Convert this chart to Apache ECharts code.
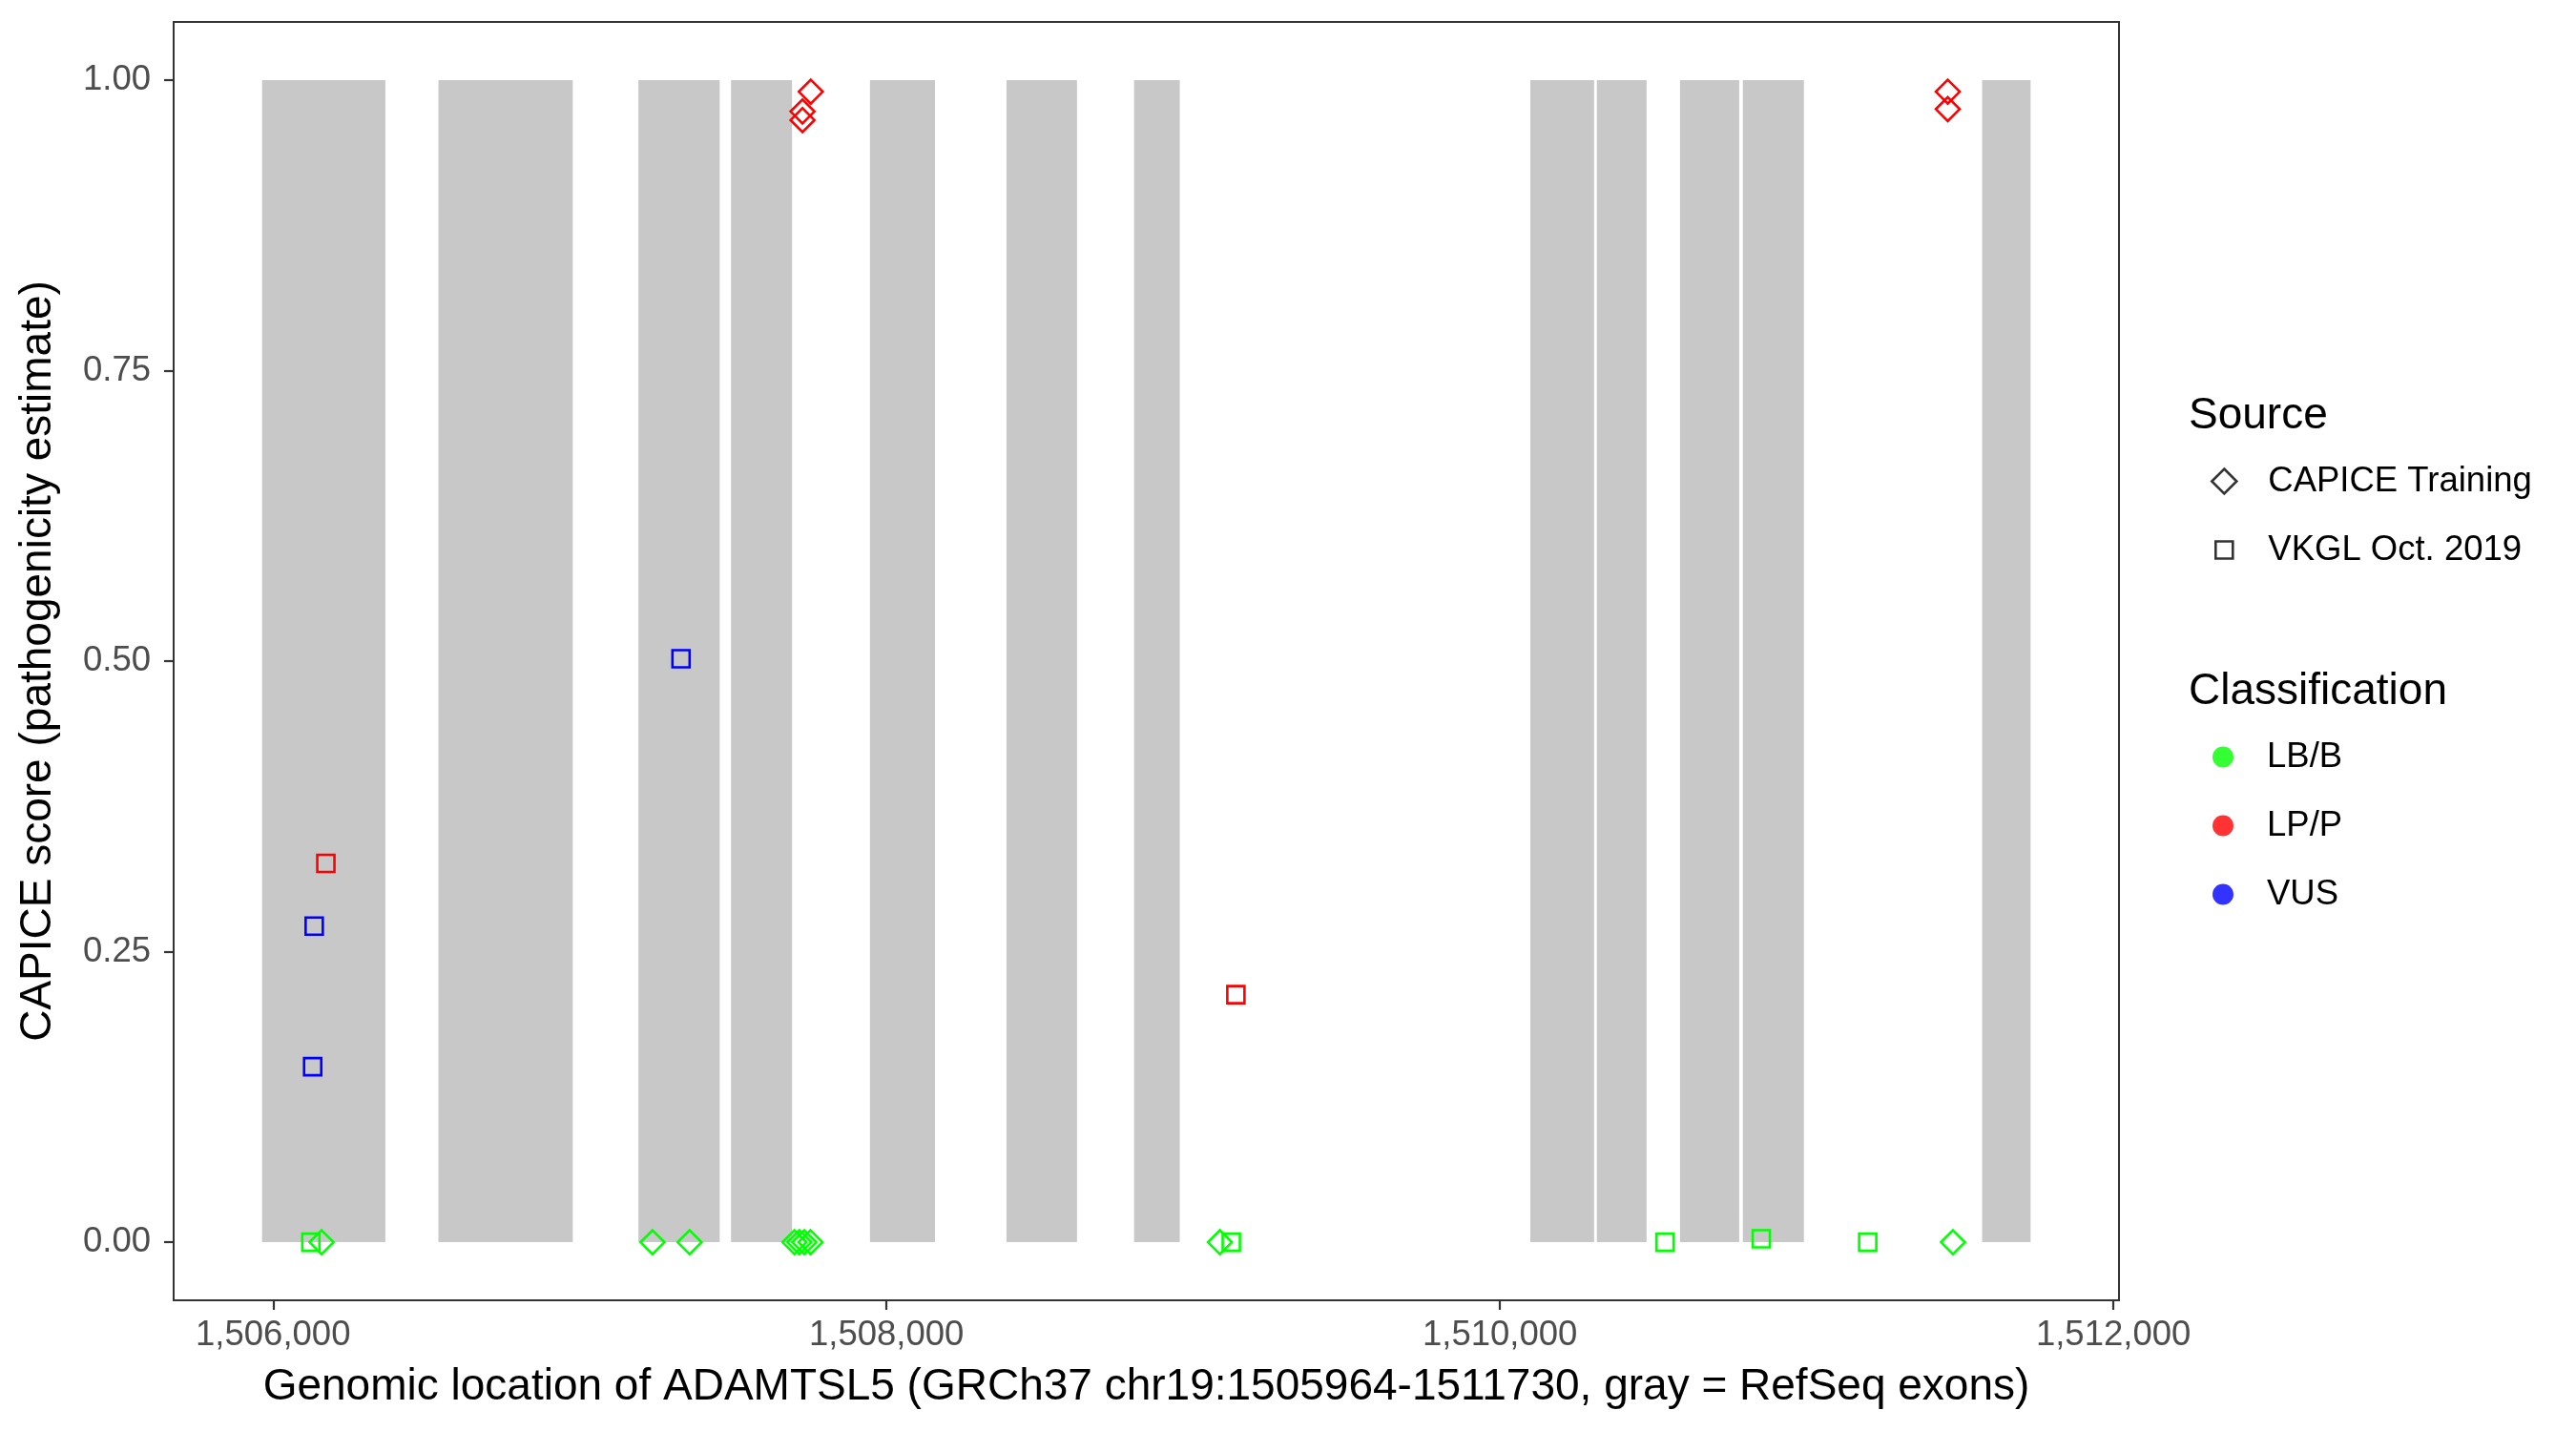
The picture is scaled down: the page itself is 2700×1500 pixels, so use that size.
<!DOCTYPE html>
<html>
<head>
<meta charset="utf-8">
<script src="https://cdn.jsdelivr.net/npm/echarts@6/dist/echarts.min.js"></script>
<style>
html,body{margin:0;padding:0;background:#fff;}
#chart{width:2700px;height:1500px;}
</style>
</head>
<body>
<div id="chart"></div>
<script>
// ---- data ----
const exonStart = [1505964, 1506539, 1507191, 1507493, 1507946, 1508391, 1508807, 1510099, 1510316, 1510587, 1510792, 1511572];
const exonEnd   = [1506366, 1506977, 1507456, 1507692, 1508158, 1508621, 1508956, 1510307, 1510478, 1510780, 1510991, 1511730];

const capicePos   = [1506158, 1507237, 1507358, 1507700, 1507716, 1507732, 1507752, 1509087, 1511477, 1507753, 1507726, 1507726, 1511460, 1511460];
const capiceScore = [0, 0, 0, 0, 0, 0, 0, 0, 0, 0.990, 0.973, 0.9655, 0.990, 0.975];
const capiceClass = ['LB/B','LB/B','LB/B','LB/B','LB/B','LB/B','LB/B','LB/B','LB/B','LP/P','LP/P','LP/P','LP/P','LP/P'];

const vkglPos   = [1506123, 1509124, 1510538, 1510852, 1511199, 1506172, 1509139, 1506134, 1506129, 1507330];
const vkglScore = [0, 0, 0, 0.003, 0, 0.326, 0.213, 0.272, 0.151, 0.502];
const vkglClass = ['LB/B','LB/B','LB/B','LB/B','LB/B','LP/P','LP/P','VUS','VUS','VUS'];

const classNames = ['LB/B', 'LP/P', 'VUS'];
const sourceNames = ['CAPICE Training', 'VKGL Oct. 2019'];
const xTicks = [1506000, 1508000, 1510000, 1512000];
const yTicks = [0, 0.25, 0.5, 0.75, 1.0];
const geneStart = 1505964, geneEnd = 1511730;

// ---- styles ----
const classColor = {'LB/B': '#00FF00', 'LP/P': '#FF0000', 'VUS': '#0000FF'};
const FONT = '"Liberation Sans", Arial, Helvetica, sans-serif';
const TITLE_SIZE = 46, LABEL_SIZE = 36.5;
const span = geneEnd - geneStart;
const xMin = geneStart - 0.05 * span, xMax = geneEnd + 0.05 * span;

function pts(pos, score, cls, c) {
  const out = [];
  for (let i = 0; i < pos.length; i++) if (cls[i] === c) out.push([pos[i], score[i]]);
  return out;
}

const series = [];
series.push({
  type: 'custom',
  name: 'exons',
  silent: true,
  z: 1,
  encode: {x: [0, 1], y: [2, 3]},
  data: exonStart.map((s, i) => [s, exonEnd[i], 0, 1]),
  renderItem: function (params, api) {
    const p0 = api.coord([api.value(0), api.value(3)]);
    const p1 = api.coord([api.value(1), api.value(2)]);
    return {type: 'rect', shape: {x: p0[0], y: p0[1], width: p1[0] - p0[0], height: p1[1] - p0[1]},
            style: {fill: '#C8C8C8'}};
  }
});

const srcDefs = [
  {name: sourceNames[0], symbol: 'diamond', size: [25, 25], pos: capicePos, score: capiceScore, cls: capiceClass},
  {name: sourceNames[1], symbol: 'rect', size: [18, 18], pos: vkglPos, score: vkglScore, cls: vkglClass}
];
srcDefs.forEach(sd => {
  classNames.forEach(c => {
    const d = pts(sd.pos, sd.score, sd.cls, c);
    if (!d.length) return;
    series.push({
      type: 'scatter', name: sd.name + ' | ' + c, z: 3,
      symbol: sd.symbol, symbolSize: sd.size,
      itemStyle: {color: 'rgba(0,0,0,0)', borderColor: classColor[c], borderWidth: 2.6, opacity: 1},
      data: d
    });
  });
});
// legend-only series
srcDefs.forEach(sd => series.push({
  type: 'scatter', name: sd.name, symbol: sd.symbol, data: [],
  itemStyle: {color: 'rgba(0,0,0,0)', borderColor: '#000', borderWidth: 2.6}
}));
classNames.forEach(c => series.push({
  type: 'scatter', name: c, symbol: 'circle', data: [], itemStyle: {color: classColor[c]}
}));

const legText = {fontFamily: FONT, fontSize: LABEL_SIZE, color: '#000', lineHeight: 37};
const titleText = {fontFamily: FONT, fontSize: TITLE_SIZE, fontWeight: 'normal', color: '#000'};

const option = {
  animation: false,
  backgroundColor: '#fff',
  textStyle: {fontFamily: FONT},
  title: [
    {text: 'Source', left: 2294, top: 413, padding: 0, textStyle: titleText},
    {text: 'Classification', left: 2294, top: 702, padding: 0, textStyle: titleText}
  ],
  legend: [
    {orient: 'vertical', left: 2317, top: 486, padding: 0, itemWidth: 26, itemHeight: 26,
     data: [{name: sourceNames[0], icon: 'diamond'}],
     itemStyle: {color: 'rgba(0,0,0,0)', borderColor: '#000', borderWidth: 2.6},
     textStyle: Object.assign({padding: [0, 0, 0, 28]}, legText), selectedMode: false},
    {orient: 'vertical', left: 2321, top: 558, padding: 0, itemWidth: 18, itemHeight: 18,
     data: [{name: sourceNames[1], icon: 'rect'}],
     itemStyle: {color: 'rgba(0,0,0,0)', borderColor: '#000', borderWidth: 2.6},
     textStyle: Object.assign({padding: [0, 0, 0, 32]}, legText), selectedMode: false},
    {orient: 'vertical', left: 2319, top: 775, padding: 0, itemWidth: 22, itemHeight: 22, itemGap: 35,
     data: classNames.map(c => ({name: c, icon: 'circle'})),
     textStyle: Object.assign({padding: [0, 0, 0, 30]}, legText), selectedMode: false}
  ],
  grid: {left: 182, top: 23, width: 2039, height: 1340, show: true, borderColor: '#333333', borderWidth: 2,
         backgroundColor: 'rgba(0,0,0,0)', containLabel: false, outerBoundsMode: 'none'},
  xAxis: {
    type: 'value', min: xMin, max: xMax,
    name: 'Genomic location of ADAMTSL5 (GRCh37 chr19:1505964-1511730, gray = RefSeq exons)',
    nameLocation: 'middle', nameGap: 68,
    nameTextStyle: {fontFamily: FONT, fontSize: TITLE_SIZE, color: '#000'},
    axisLine: {show: false, onZero: false},
    splitLine: {show: false},
    axisTick: {show: true, length: 10, customValues: xTicks, lineStyle: {color: '#333333', width: 2.2}},
    axisLabel: {show: true, margin: 18, customValues: xTicks, fontFamily: FONT, fontSize: LABEL_SIZE, color: '#4D4D4D',
                formatter: v => Math.round(v).toLocaleString('en-US')}
  },
  yAxis: {
    type: 'value', min: -0.05, max: 1.05,
    name: 'CAPICE score (pathogenicity estimate)',
    nameLocation: 'middle', nameGap: 119, nameRotate: 90,
    nameTextStyle: {fontFamily: FONT, fontSize: TITLE_SIZE, color: '#000'},
    axisLine: {show: false, onZero: false},
    splitLine: {show: false},
    axisTick: {show: true, length: 10, customValues: yTicks, lineStyle: {color: '#333333', width: 2.2}},
    axisLabel: {show: true, margin: 24, customValues: yTicks, fontFamily: FONT, fontSize: LABEL_SIZE, color: '#4D4D4D',
                formatter: v => v.toFixed(2)}
  },
  series: series
};

const chart = echarts.init(document.getElementById('chart'), null, {renderer: 'canvas'});
chart.setOption(option);
</script>
</body>
</html>
